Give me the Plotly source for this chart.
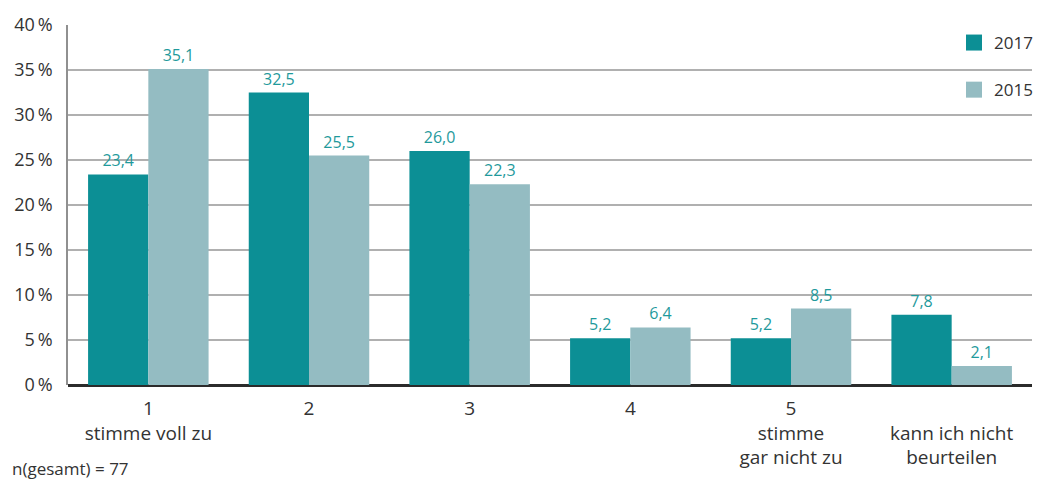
import plotly.graph_objects as go

categories = ["1<br>stimme voll zu", "2", "3", "4",
              "5<br>stimme<br>gar nicht zu", " <br>kann ich nicht<br>beurteilen"]
values_2017 = [23.4, 32.5, 26.0, 5.2, 5.2, 7.8]
values_2015 = [35.1, 25.5, 22.3, 6.4, 8.5, 2.1]
tick_vals = [0, 5, 10, 15, 20, 25, 30, 35, 40]
tick_text = [f"{v}\u2009%" for v in tick_vals]

COLOR_2017 = "#0c8f95"
COLOR_2015 = "#94bcc2"
LABEL_COLOR = "#1f9a9c"
FONT = "'Open Sans', Lato, sans-serif"
TEXT = "#333333"

x = list(range(len(categories)))

fig = go.Figure()
for name, vals, col in [("2017", values_2017, COLOR_2017), ("2015", values_2015, COLOR_2015)]:
    fig.add_trace(go.Bar(
        x=x, y=vals, name=name, marker=dict(color=col, line=dict(width=0)),
        texttemplate="%{y:.1f}", textposition="outside", cliponaxis=False,
        textfont=dict(color=LABEL_COLOR, size=16, family=FONT),
        showlegend=False,
    ))

# legend entries with larger square swatches
for name, col in [("2017", COLOR_2017), ("2015", COLOR_2015)]:
    fig.add_trace(go.Scatter(
        x=[None], y=[None], mode="markers", name=name, legendgroup=name,
        marker=dict(symbol="square", size=16, color=col),
    ))

fig.update_layout(
    width=1050, height=482,
    margin=dict(l=68, r=16, t=20, b=97),
    plot_bgcolor="white", paper_bgcolor="white",
    barmode="group", bargap=0.25, bargroupgap=0,
    separators=",.",
    font=dict(family=FONT, size=17, color=TEXT),
    legend=dict(x=1 + 6 / 966, xanchor="right", y=1, yanchor="top",
                font=dict(size=17, color=TEXT),
                bgcolor="rgba(0,0,0,0)", tracegroupgap=22,
                traceorder="grouped", itemsizing="trace"),
    xaxis=dict(range=[-0.5, 5.5], tickmode="array", tickvals=x, ticktext=categories,
               showgrid=False, zeroline=False, showline=False, ticks="",
               ticklabelstandoff=10,
               tickfont=dict(size=19, color=TEXT)),
    yaxis=dict(range=[0, 40], tickmode="array", tickvals=tick_vals, ticktext=tick_text,
               showgrid=True, gridcolor="#b0b0b0", gridwidth=1.5,
               zeroline=True, zerolinecolor="#2b2b2b", zerolinewidth=3,
               showline=True, linecolor="#909090", linewidth=1.5,
               ticks="", ticklabelstandoff=10,
               tickfont=dict(size=18, color=TEXT)),
)

fig.add_annotation(text="n(gesamt) = 77", xref="paper", yref="paper",
                   x=-58/966, y=-97/365, xanchor="left", yanchor="bottom",
                   yshift=-1, showarrow=False, font=dict(size=17, color=TEXT))

fig.write_html("out.html")
